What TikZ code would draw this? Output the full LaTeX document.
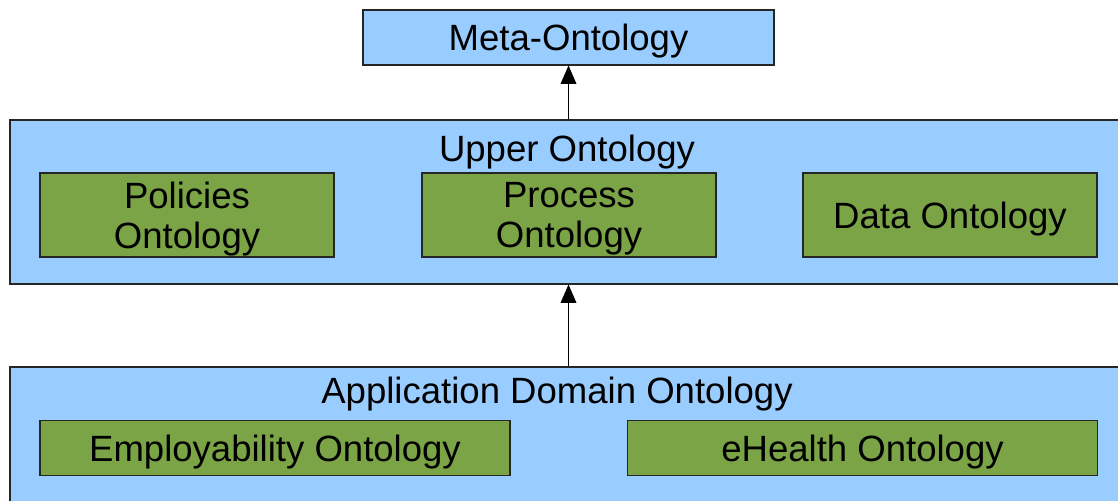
\documentclass[tikz,border=0pt]{standalone}
\usepackage{fontspec}
\setmainfont{Liberation Sans}
\usetikzlibrary{arrows.meta}
\definecolor{layerblue}{HTML}{99CCFF}
\definecolor{ontogreen}{HTML}{7AA446}
\begin{document}
\begin{tikzpicture}[
      x=0.02cm, y=-0.02cm,
      layer/.style={draw=black!85, fill=layerblue, line width=0.6pt, inner sep=0pt},
      onto/.style={draw=black!85, fill=ontogreen, line width=0.6pt, inner sep=0pt, align=center,
        text depth=0pt, font=\fontsize{20.8}{23}\selectfont},
      lbl/.style={text depth=0pt, font=\fontsize{20.8}{24}\selectfont},
      arr/.style={line width=0.6pt, -{Triangle[width=9pt, length=10.5pt]}}
    ]
    \clip (0,0) rectangle (1118,500);
    \fill[white] (0,0) rectangle (1118,500);
    % top layer
    \node[layer, lbl, minimum width=411*0.02cm, minimum height=55*0.02cm] (meta) at (568.5,37.5) {Meta-Ontology};
    % upper layer
    \node[layer, minimum width=1120*0.02cm, minimum height=164*0.02cm] (upper) at (570,202) {};
    \node[lbl] (upperlbl) at (567,148) {Upper Ontology};
    \foreach \nm/\cx/\txt in {policies/187/{Policies\\Ontology},process/569/{Process\\Ontology},data/950/{Data Ontology}} {
      \node[onto, minimum width=294*0.02cm, minimum height=84*0.02cm] (\nm) at (\cx,215) {\txt};
    }
    % application layer
    \node[layer, minimum width=1115*0.02cm, minimum height=146*0.02cm] (app) at (567.5,440) {};
    \node[lbl] (applbl) at (557,390) {Application Domain Ontology};
    \foreach \nm/\cx/\txt in {employ/275/{Employability Ontology},ehealth/862.5/{eHealth Ontology}} {
      \node[onto, minimum width=470*0.02cm, minimum height=55*0.02cm] (\nm) at (\cx,448) {\txt};
    }
    % connectors
    \draw[arr] (upper.north -| meta.south) -- (meta.south);
    \draw[arr] (app.north -| meta.south) -- (upper.south -| meta.south);
  \end{tikzpicture}
\end{document}
